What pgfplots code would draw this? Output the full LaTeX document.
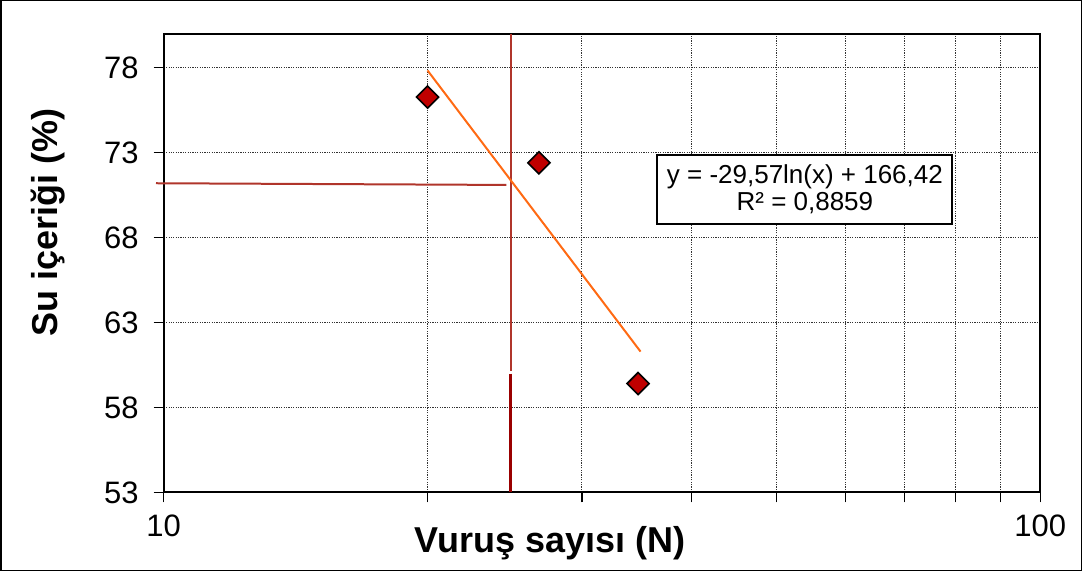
\documentclass[border=0pt]{standalone}
\usepackage{fontspec}
\setmainfont{Liberation Sans}
\usepackage{pgfplots}
\pgfplotsset{compat=1.18}
\definecolor{mk}{HTML}{C00000}
\definecolor{trend}{HTML}{FF6A13}
\definecolor{guide}{HTML}{B0352B}
\definecolor{guidedark}{HTML}{9A0000}
\begin{document}
\begin{tikzpicture}
\begin{semilogxaxis}[
  scale only axis, width=438.5pt, height=229.5pt,
  xmin=10, xmax=100, ymin=53, ymax=80,
  xtick={10,100}, xticklabels={10,100},
  minor xtick={20,30,40,50,60,70,80,90},
  ytick={53,58,63,68,73,78},
  xminorgrids=true, ymajorgrids=true, xmajorgrids=false,
  grid style={dash pattern=on 0.6pt off 0.6pt, line width=0.5pt, black!80},
  minor grid style={dash pattern=on 0.6pt off 0.6pt, line width=0.5pt, black!80},
  axis line style={line width=1pt},
  tick align=outside, major tick length=5pt, minor tick length=5pt,
  tick style={black, line width=0.6pt},
  xtick pos=bottom, ytick pos=left,
  ticklabel style={font=\fontsize{15.5}{18}\selectfont},
  yticklabel style={xshift=-4pt},
  xticklabel style={yshift=-2.5pt},
  /pgf/number format/assume math mode=true,
  clip=false,
  xlabel={Vuruş sayısı (N)},
  ylabel={Su içeriği (\%)},
  xlabel style={at={(axis description cs:0.441,-0.1307)}, anchor=base, font=\bfseries\fontsize{18}{20}\selectfont},
  ylabel style={at={(axis description cs:-0.1209,0.588)}, anchor=base, rotate=0, font=\bfseries\fontsize{18}{20}\selectfont},
]
\draw[line width=0.75pt, black] (axis description cs:-0.1859,-0.1699) rectangle (axis description cs:1.0468,1.0719);
\addplot[guide, line width=1pt] coordinates {(9.8,71.2) (24.6,71.1)};
\addplot[guide, line width=1pt] coordinates {(24.87,80) (24.87,60.15)};
\addplot[guidedark, line width=1.2pt] coordinates {(24.87,60.0) (24.87,53)};
\addplot[trend, line width=1pt] coordinates {(20,77.84) (35,61.29)};
\addplot[only marks, mark=square*, mark size=3.9pt, mark options={rotate=45, fill=mk, draw=black, line width=0.8pt}] coordinates {(20,76.27) (26.8,72.4) (34.77,59.41)};
\node[draw=black, line width=1pt, fill=white, minimum width=147.5pt, minimum height=34.5pt, align=center, font=\fontsize{13}{14}\selectfont, inner sep=0pt] at (axis description cs:0.7315,0.661) {y = -29,57ln(x) + 166,42\\R² = 0,8859};
\end{semilogxaxis}
\end{tikzpicture}
\end{document}
